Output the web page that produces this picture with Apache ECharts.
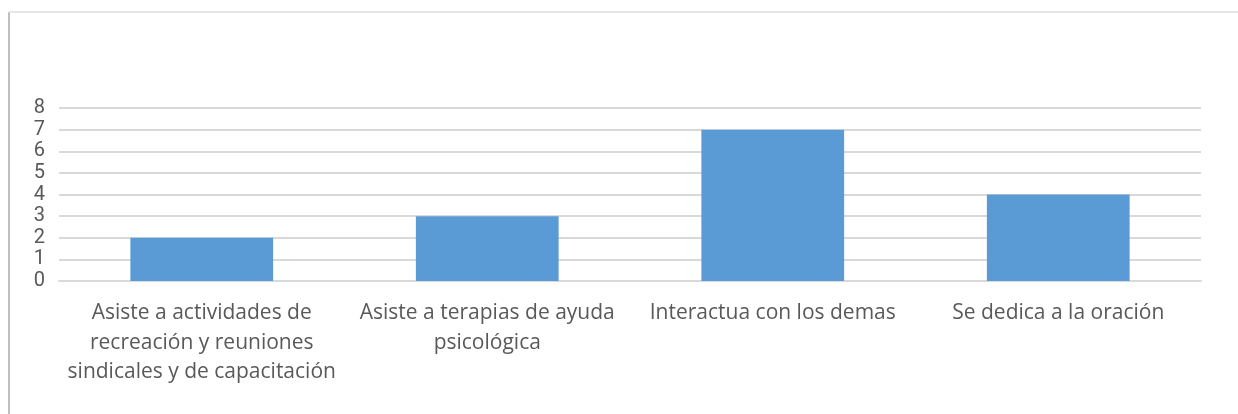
<!DOCTYPE html>
<html>
<head>
<meta charset="utf-8">
<script src="https://cdn.jsdelivr.net/npm/echarts@6/dist/echarts.min.js"></script>
<style>
html,body{margin:0;padding:0;background:#fff;}
#c{width:1238px;height:414px;}
</style>
</head>
<body>
<div id="c"></div>
<script>
const categories = [
  "Asiste a actividades de\nrecreación y reuniones\nsindicales y de capacitación",
  "Asiste a terapias de ayuda\npsicológica",
  "Interactua con los demas",
  "Se dedica a la oración"
];
const values = [2, 3, 7, 4];
const yTicks = [0, 1, 2, 3, 4, 5, 6, 7, 8];

const chart = echarts.init(document.getElementById('c'), null, {renderer: 'canvas'});
chart.setOption({
  animation: false,
  backgroundColor: '#ffffff',
  graphic: [
    {type: 'line', shape: {x1: 9, y1: 12, x2: 9, y2: 414}, style: {stroke: '#bfbfbf', lineWidth: 2}},
    {type: 'line', shape: {x1: 9, y1: 12, x2: 1238, y2: 12}, style: {stroke: '#e6e6e6', lineWidth: 2}}
  ],
  grid: {left: 59, right: 37, top: 108, bottom: 133, containLabel: false},
  xAxis: {
    type: 'category',
    data: categories,
    axisTick: {show: false},
    axisLine: {show: true, lineStyle: {color: '#d9d9d9', width: 2}},
    axisLabel: {
      color: '#595959', fontFamily: 'Open Sans', fontSize: 21, lineHeight: 29.5,
      margin: 17.5, interval: 0
    }
  },
  yAxis: {
    type: 'value',
    min: yTicks[0], max: yTicks[yTicks.length - 1], interval: 1,
    axisLine: {show: false},
    axisTick: {show: false},
    splitLine: {lineStyle: {color: '#d9d9d9', width: 2}},
    axisLabel: {color: '#595959', fontFamily: 'Roboto', fontSize: 20, margin: 14}
  },
  series: [{
    type: 'bar',
    data: values,
    barWidth: '50%',
    itemStyle: {color: '#5b9bd5'}
  }]
});
</script>
</body>
</html>
